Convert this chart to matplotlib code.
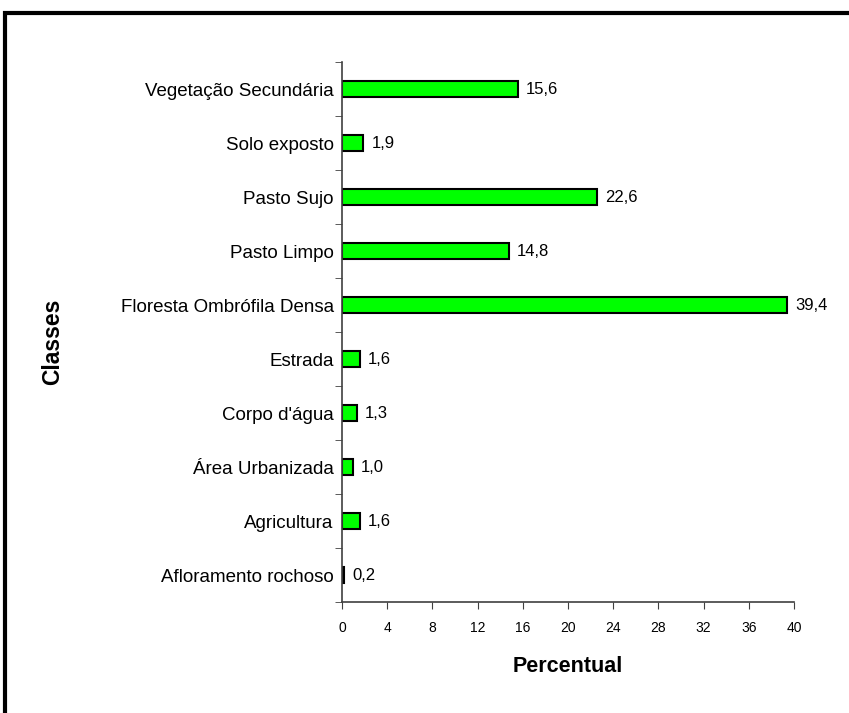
import matplotlib
matplotlib.use('Agg')
import matplotlib.pyplot as plt
from matplotlib.patches import Rectangle

classes = [
    'Afloramento rochoso', 'Agricultura', 'Área Urbanizada', "Corpo d'água",
    'Estrada', 'Floresta Ombrófila Densa', 'Pasto Limpo', 'Pasto Sujo',
    'Solo exposto', 'Vegetação Secundária',
]
percent = [0.2, 1.6, 1.0, 1.3, 1.6, 39.4, 14.8, 22.6, 1.9, 15.6]
x_ticks = list(range(0, 41, 4))

plt.rcParams['font.family'] = ['Liberation Sans', 'DejaVu Sans']

fig = plt.figure(figsize=(8.49, 7.13), dpi=100)
ax = fig.add_axes([342 / 849, 1 - 602 / 713, 452 / 849, 540 / 713])

pos = range(len(classes))
ax.barh(pos, percent, height=0.3, color='#00ff00', edgecolor='black',
        linewidth=1.5, zorder=1)

for y, v in zip(pos, percent):
    ax.text(v + 0.7, y, f'{v:.1f}'.replace('.', ','), va='center', ha='left', fontsize=12)

ax.set_xlim(0, 40)
ax.set_ylim(-0.5, len(classes) - 0.5)
ax.set_xticks(x_ticks)
ax.set_xticklabels([str(t) for t in x_ticks], fontsize=10)
ax.set_yticks(list(pos))
ax.set_yticklabels(classes, fontsize=13.5)
ax.set_yticks([i - 0.5 for i in range(len(classes) + 1)], minor=True)
ax.tick_params(axis='y', which='major', length=0, pad=6)
ax.tick_params(axis='y', which='minor', length=5, direction='out', color='#404040')
ax.tick_params(axis='x', length=5, direction='out', color='#404040', pad=9)

for side in ('top', 'right'):
    ax.spines[side].set_visible(False)
for side in ('left', 'bottom'):
    ax.spines[side].set_color('#404040')
    ax.spines[side].set_linewidth(1.2)
    ax.spines[side].set_zorder(3)

ax.set_xlabel('Percentual', fontsize=15.5, fontweight='bold', labelpad=15)
fig.text(53 / 849, 1 - 342 / 713, 'Classes', rotation=90, fontsize=16.5,
         fontweight='bold', ha='center', va='center')

# outer frame, open on right and bottom
fig.patches.append(Rectangle((5 / 849, -0.1), 1.2, 1 - 13 / 713 + 0.1,
                             transform=fig.transFigure, fill=False,
                             edgecolor='black', linewidth=3))

fig.savefig('out.png', dpi=100, facecolor='white')
